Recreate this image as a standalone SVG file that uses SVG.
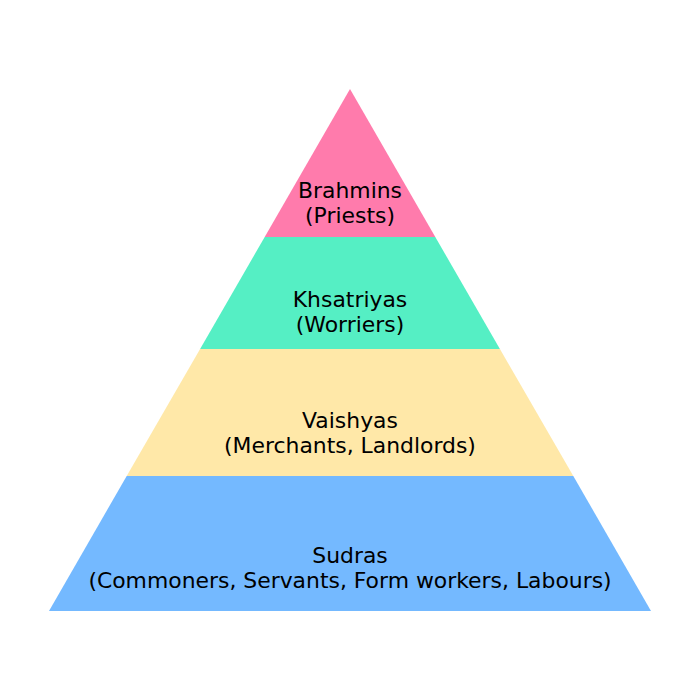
<svg xmlns="http://www.w3.org/2000/svg" width="700" height="700" viewBox="0 0 700 700">
<style>
text{font-family:"DejaVu Sans","Liberation Sans",sans-serif;font-size:21.9px;fill:#000;text-anchor:middle}
</style>
<rect width="700" height="700" fill="#fff"/>
<g id="brahmins">
<polygon points="350,89 435.3,237 264.7,237" fill="#FF7BAC"/>
<text x="350" y="198">Brahmins</text>
<text x="350" y="223">(Priests)</text>
</g>
<g id="khsatriyas">
<polygon points="264.7,237 435.3,237 499.9,349 200.1,349" fill="#55EFC4"/>
<text x="350" y="307">Khsatriyas</text>
<text x="350" y="332">(Worriers)</text>
</g>
<g id="vaishyas">
<polygon points="200.1,349 499.9,349 573.3,476 126.7,476" fill="#FFE8A8"/>
<text x="350" y="428">Vaishyas</text>
<text x="350" y="453">(Merchants, Landlords)</text>
</g>
<g id="sudras">
<polygon points="126.7,476 573.3,476 651,611 49,611" fill="#74B9FF"/>
<text x="350" y="563">Sudras</text>
<text x="350" y="588">(Commoners, Servants, Form workers, Labours)</text>
</g>
</svg>
